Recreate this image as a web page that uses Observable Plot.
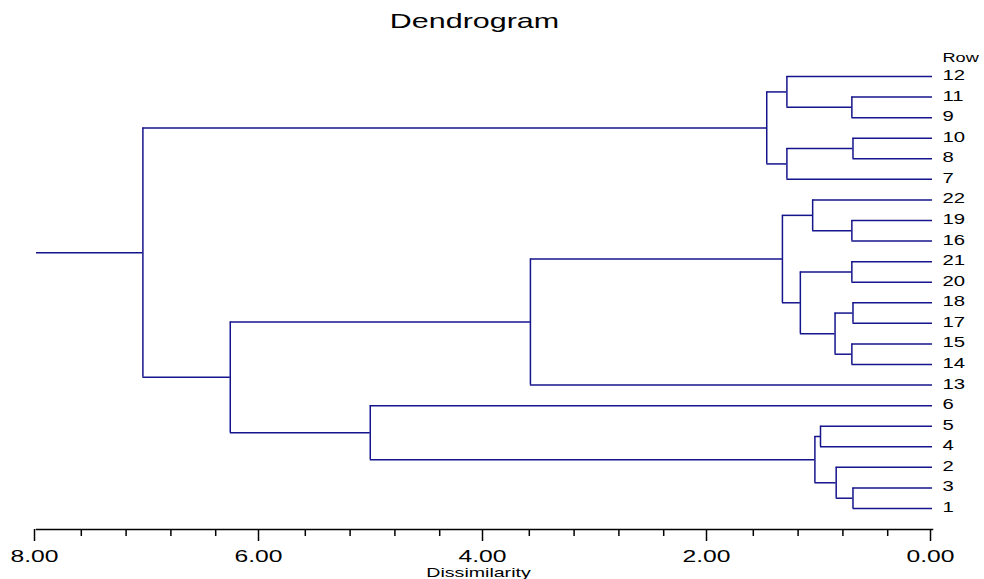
<!DOCTYPE html>
<html>
<head>
<meta charset="utf-8">
<script src="https://cdn.jsdelivr.net/npm/d3@7"></script>
<script src="https://cdn.jsdelivr.net/npm/@observablehq/plot@0.6"></script>
<style>
  html, body { margin: 0; padding: 0; background: white; }
  #chart svg { display: block; }
</style>
</head>
<body>
<div id="chart"></div>
<script>
// Leaf rows, top to bottom
const rowLabels = ["12","11","9","10","8","7","22","19","16","21","20","18","17","15","14","13","6","5","4","2","3","1"];
// Merges: left child, right child, dissimilarity ("m#" = result of merge #)
const mergeLeft   = ["11","10","12","7","m2","19","22","21","18","15","m8","m7","m6","m12","5","3","2","m14","6","m13","m4"];
const mergeRight  = ["9","8","m0","m1","m3","16","m5","20","17","14","m9","m10","m11","13","4","1","m15","m16","m17","m18","m19"];
const mergeHeight = [0.72,0.71,1.30,1.30,1.48,0.72,1.07,0.72,0.71,0.72,0.87,1.18,1.34,3.59,1.00,0.71,0.86,1.05,5.02,6.27,7.05];
// Axis
const xMax = 8;
const majorTicks = [8, 6, 4, 2, 0];
const minorTicks = [7.6, 7.2, 6.8, 6.4, 5.6, 5.2, 4.8, 4.4, 3.6, 3.2, 2.8, 2.4, 1.6, 1.2, 0.8, 0.4];

// Build segments from the merge table
const node = {};
rowLabels.forEach((r, i) => node[r] = {y: i, h: 0});
const hSegs = [], vSegs = [];
mergeLeft.forEach((a, i) => {
  const b = mergeRight[i], h = mergeHeight[i];
  const A = node[a], B = node[b];
  hSegs.push({x1: A.h, x2: h, y: A.y}, {x1: B.h, x2: h, y: B.y});
  vSegs.push({x: h, y1: A.y, y2: B.y});
  node["m" + i] = {y: (A.y + B.y) / 2, h};
});
const root = node["m" + (mergeLeft.length - 1)];
hSegs.push({x1: root.h, x2: xMax, y: root.y});
const leaves = rowLabels.map((r, i) => ({label: r, y: i}));

const lineColor = "#14148c";

const chart = Plot.plot({
  width: 984,
  height: 579,
  marginLeft: 36,
  marginRight: 52,
  marginTop: 76,
  marginBottom: 50,
  insetBottom: 21,
  x: {domain: [xMax, 0], label: null},
  y: {domain: [rowLabels.length - 1, 0], axis: null},
  style: {fontFamily: "'Liberation Sans', Arial, sans-serif", color: "black", background: "white", overflow: "visible"},
  marks: [
    Plot.ruleY(hSegs, {x1: "x1", x2: "x2", y: "y", stroke: lineColor, strokeWidth: 1.5}),
    Plot.ruleX(vSegs, {x: "x", y1: "y1", y2: "y2", stroke: lineColor, strokeWidth: 1.5}),
    Plot.text(leaves, {x: () => 0, y: "y", text: "label", textAnchor: "start", dx: 10, dy: -1, fontSize: 14, fill: "black"}),
    Plot.frame({anchor: "bottom", stroke: "black", strokeWidth: 1.5}),
    Plot.axisX({ticks: majorTicks, tickSize: 12, tickPadding: 8, tickFormat: d3.format(".2f"), fontSize: 17, strokeWidth: 1.5, label: null, dx: -2}),
    Plot.axisX({ticks: minorTicks, tickSize: 7, tickFormat: () => "", strokeWidth: 1.5, label: null}),
    Plot.text(["Dendrogram"], {frameAnchor: "top", lineAnchor: "bottom", dy: -49, dx: -10, fontSize: 21, fill: "black"}),
    Plot.text(["Row"], {frameAnchor: "top-right", textAnchor: "start", lineAnchor: "bottom", dx: 10, dy: -15, fontSize: 12.5, fill: "black"}),
    Plot.text(["Dissimilarity"], {frameAnchor: "bottom", lineAnchor: "bottom", dy: 47, dx: -6, fontSize: 13.5, fill: "black"})
  ]
});
document.getElementById("chart").appendChild(chart);

// Horizontally widen the glyphs, as in the reference rendering
const stretch = 1.45;
chart.querySelectorAll("text").forEach(t => {
  const w = t.getComputedTextLength();
  if (w > 0) {
    t.setAttribute("textLength", (w * stretch).toFixed(1));
    t.setAttribute("lengthAdjust", "spacingAndGlyphs");
  }
});
</script>
</body>
</html>
